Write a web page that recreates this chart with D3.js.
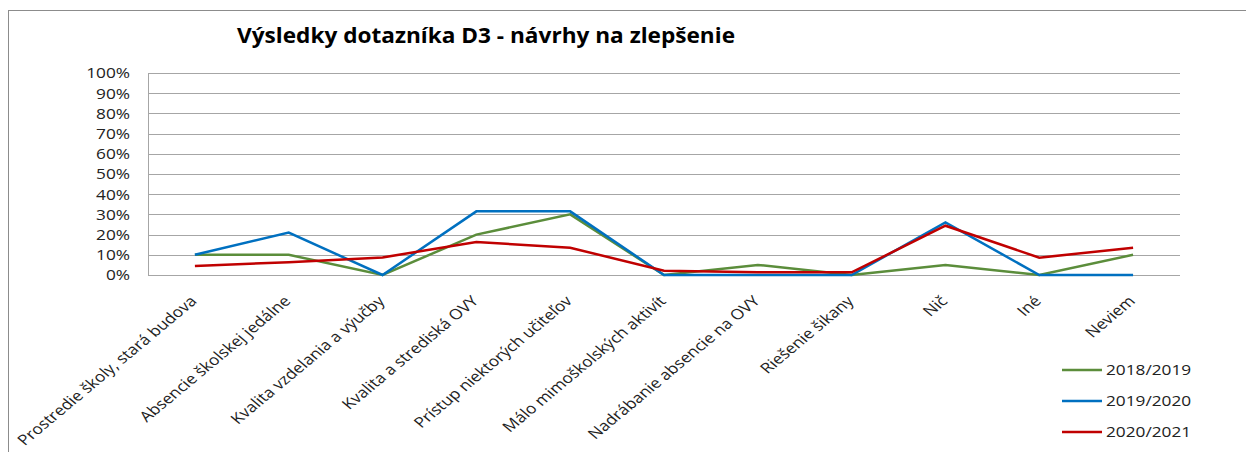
<!DOCTYPE html>
<html>
<head>
<meta charset="utf-8">
<script src="https://cdn.jsdelivr.net/npm/d3@7"></script>
<style>
  html, body { margin: 0; padding: 0; background: #fff; }
  svg { display: block; font-family: "Open Sans", "DejaVu Sans", sans-serif; }
</style>
</head>
<body>
<svg id="chart" width="1246" height="452"></svg>
<script>
const title = "Výsledky dotazníka D3 - návrhy na zlepšenie";
const categories = [
  "Prostredie školy, stará budova",
  "Absencie školskej jedálne",
  "Kvalita vzdelania a výučby",
  "Kvalita a strediská OVY",
  "Prístup niektorých učiteľov",
  "Málo mimoškolských aktivít",
  "Nadrábanie absencie na OVY",
  "Riešenie šikany",
  "Nič",
  "Iné",
  "Neviem"
];
const seriesNames = ["2018/2019", "2019/2020", "2020/2021"];
const values2018 = [0.10, 0.10, 0.00, 0.20, 0.30, 0.00, 0.05, 0.00, 0.05, 0.00, 0.10];
const values2019 = [0.10, 0.21, 0.00, 0.315, 0.315, 0.00, 0.00, 0.00, 0.26, 0.00, 0.00];
const values2020 = [0.045, 0.063, 0.087, 0.163, 0.135, 0.021, 0.013, 0.013, 0.244, 0.086, 0.135];
const yTicks = [0, 0.1, 0.2, 0.3, 0.4, 0.5, 0.6, 0.7, 0.8, 0.9, 1.0];
const colors = ["#5b8d3b", "#0070c0", "#c00000"];

const series = [values2018, values2019, values2020].map((v, i) => ({name: seriesNames[i], values: v, color: colors[i]}));

const svg = d3.select("#chart");
const plot = {left: 148, right: 1180, top: 73, bottom: 275};
const stretch = 1.15;

// outer border (top and left visible)
svg.append("line").attr("x1", 8).attr("y1", 10.5).attr("x2", 1246).attr("y2", 10.5)
  .attr("stroke", "#8c8c8c").attr("stroke-width", 1);
svg.append("line").attr("x1", 8.5).attr("y1", 10).attr("x2", 8.5).attr("y2", 452)
  .attr("stroke", "#8c8c8c").attr("stroke-width", 1);

// title
const t = svg.append("text").attr("x", 237).attr("y", 43)
  .attr("font-size", 21).attr("font-weight", "bold").attr("fill", "#000")
  .text(title);
t.attr("textLength", 498).attr("lengthAdjust", "spacingAndGlyphs");

const x = d3.scaleBand().domain(categories).range([plot.left, plot.right]);
const y = d3.scaleLinear().domain([0, 1]).range([plot.bottom, plot.top]);

// gridlines
svg.append("g").selectAll("line").data(yTicks).join("line")
  .attr("x1", plot.left).attr("x2", plot.right)
  .attr("y1", d => Math.round(y(d)) + 0.5).attr("y2", d => Math.round(y(d)) + 0.5)
  .attr("stroke", "#a6a6a6").attr("stroke-width", 1);

// left axis line
svg.append("line").attr("x1", plot.left + 0.5).attr("x2", plot.left + 0.5)
  .attr("y1", plot.top).attr("y2", plot.bottom)
  .attr("stroke", "#a6a6a6").attr("stroke-width", 1);

// y labels
const yAxis = d3.axisLeft(y).tickValues(yTicks).tickFormat(d3.format(".0%")).tickSize(0).tickPadding(0);
const gy = svg.append("g").attr("transform", `translate(${plot.left},0)`).call(yAxis);
gy.select(".domain").remove();
gy.selectAll("text").attr("font-size", 15).attr("fill", "#222").attr("font-family", "Open Sans, sans-serif")
  .attr("x", 0)
  .attr("transform", `translate(-18,0) scale(${stretch},1)`);

// x labels
const xAxis = d3.axisBottom(x).tickSize(0).tickPadding(0);
const gx = svg.append("g").attr("transform", `translate(0,${plot.bottom})`).call(xAxis);
gx.select(".domain").remove();
gx.selectAll("text")
  .attr("font-size", 14.5).attr("fill", "#222").attr("font-family", "Open Sans, sans-serif")
  .attr("text-anchor", "end")
  .attr("transform", "translate(3,27) scale(1.2,1) rotate(-45)")
  .attr("dy", 0).attr("y", 0).attr("x", 0);

// lines
const line = d3.line().x((d, i) => x(categories[i]) + x.bandwidth() / 2).y(d => y(d));
svg.append("g").selectAll("path").data(series).join("path")
  .attr("d", d => line(d.values))
  .attr("fill", "none").attr("stroke", d => d.color).attr("stroke-width", 2.5)
  .attr("stroke-linejoin", "miter");

// legend
const lg = svg.append("g").attr("transform", "translate(1062,370)");
const items = lg.selectAll("g").data(series).join("g")
  .attr("transform", (d, i) => `translate(0,${i * 31})`);
items.append("line").attr("x1", 0).attr("x2", 40).attr("y1", 0).attr("y2", 0)
  .attr("stroke", d => d.color).attr("stroke-width", 2.5);
items.append("text").attr("x", 0).attr("y", 0).attr("dy", "0.35em")
  .attr("transform", `translate(44,0) scale(${stretch},1)`)
  .attr("font-size", 15).attr("fill", "#222").text(d => d.name);
</script>
</body>
</html>
